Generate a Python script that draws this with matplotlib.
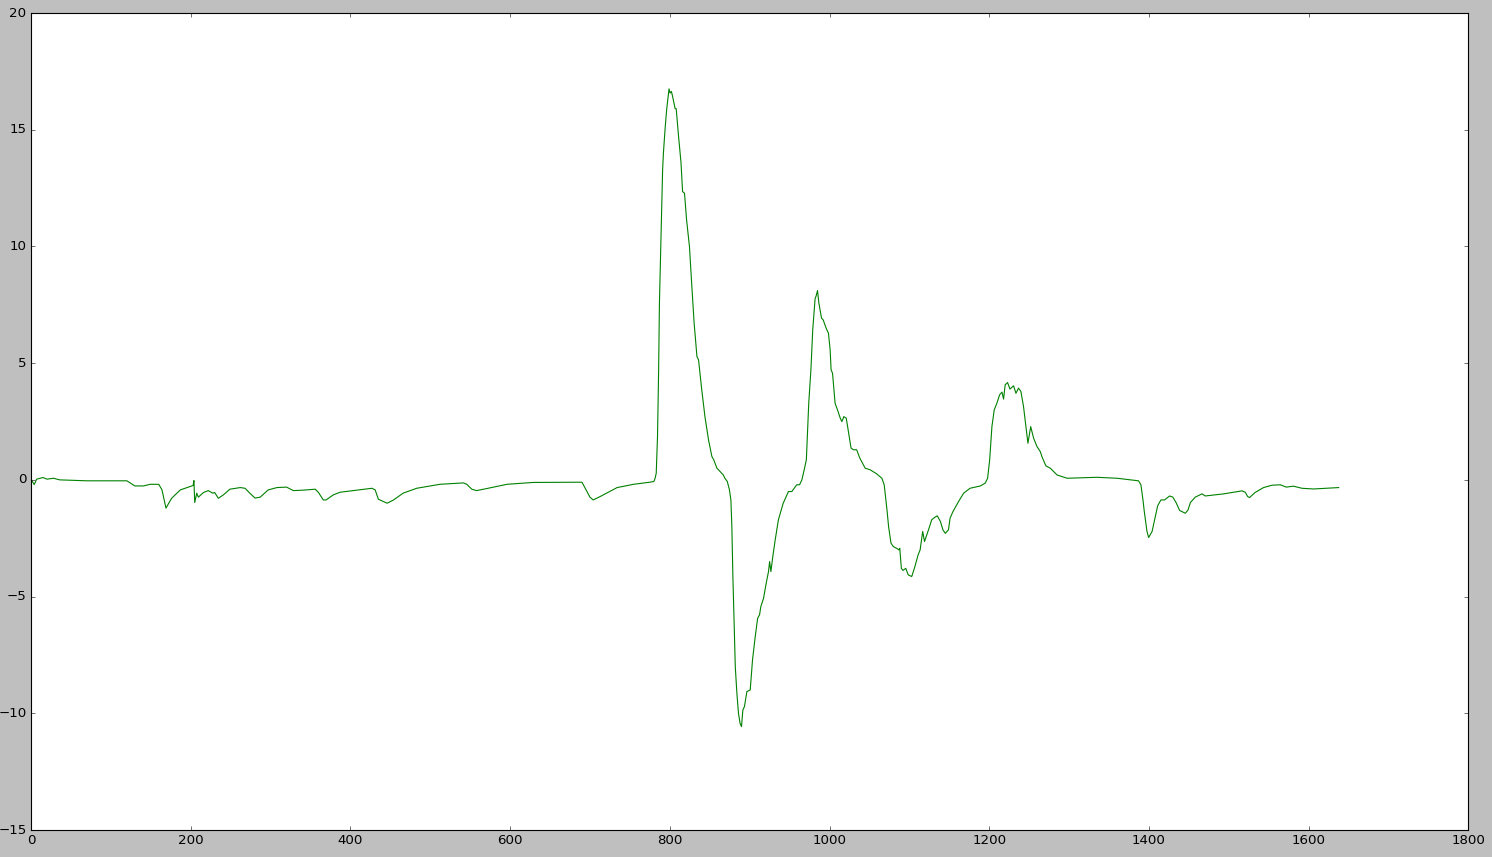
import matplotlib
matplotlib.use("Agg")
import matplotlib.pyplot as plt

# signal trace (sample index, value)
X = [0, 4, 7, 15, 20, 28, 36, 70, 120, 130, 141, 149, 160, 164, 169, 176, 187, 199,
     203, 204, 205, 207.5, 209.6, 216, 222, 227.6, 230, 234.6, 241, 249, 262, 268, 274,
     280.6, 287, 297, 308, 320, 328.6, 341, 356, 360, 366, 369.5, 378.7, 387, 427, 431,
     435, 439, 446, 454, 466, 483, 512, 541.5, 545.8, 552, 558, 571, 596, 629, 690, 694,
     700, 704, 713, 734, 754.5, 775, 780, 781.6, 783, 784.6, 786, 787, 789, 791, 792,
     794, 796, 799, 800.4, 802, 803, 806.7, 808, 811, 814, 816, 818.4, 821, 824.6,
     827.6, 830.5, 834, 836, 840, 844, 848.5, 852.7, 855, 859, 861, 867, 869, 872,
     874.7, 876.5, 877.7, 879, 880.6, 882, 884, 886, 888, 889.8, 891.5, 893.5, 896.5,
     900.7, 903.6, 907, 910, 912.4, 914, 917.4, 920.7, 923.6, 925, 926.6, 929, 932,
     936, 942, 948.6, 952.8, 959, 962.5, 965.4, 968.3, 971, 974, 976.7, 979, 982, 983,
     985, 986.7, 990, 992, 995.8, 998.7, 1000.8, 1002, 1003.8, 1007, 1010, 1013.5,
     1015.5, 1018, 1021, 1024, 1027, 1030, 1034, 1038, 1044.7, 1051, 1059, 1065.6,
     1068.5, 1072, 1074, 1077, 1080, 1084, 1087, 1088, 1090, 1092, 1095.5, 1098.6, 1103,
     1107, 1111, 1113.5, 1116.7, 1119, 1124, 1128, 1132, 1135, 1139, 1142, 1145, 1149,
     1151, 1154.6, 1161.6, 1168, 1176, 1189, 1195, 1198, 1200.6, 1203.4, 1206.3,
     1209.6, 1213, 1216, 1218, 1220, 1223, 1226, 1230.5, 1233.5, 1236.7, 1239.7, 1243,
     1246, 1248.5, 1252, 1255.6, 1259.8, 1264, 1266, 1271, 1276.5, 1285, 1297.5, 1335,
     1360, 1387, 1390, 1392.6, 1394, 1397.6, 1399.7, 1404, 1408, 1411, 1415, 1419.5,
     1426, 1430, 1434, 1438.5, 1441.5, 1445.6, 1449, 1452, 1458, 1466.5, 1470.6,
     1493.6, 1516.6, 1520.7, 1523.6, 1526, 1533, 1543.6, 1554, 1564.6, 1572, 1581,
     1591.7, 1606, 1637.7]
Y = [0.03, -0.2, 0.03, 0.1, 0.03, 0.07, 0.0, -0.04, -0.04, -0.26, -0.26, -0.19, -0.19,
     -0.43, -1.21, -0.79, -0.43, -0.29, -0.24, -0.03, -0.97, -0.57, -0.74, -0.54, -0.46,
     -0.57, -0.54, -0.79, -0.64, -0.4, -0.33, -0.36, -0.57, -0.78, -0.74, -0.43, -0.33,
     -0.31, -0.46, -0.44, -0.4, -0.54, -0.86, -0.86, -0.64, -0.53, -0.36, -0.43, -0.83,
     -0.89, -1.0, -0.86, -0.57, -0.36, -0.19, -0.13, -0.19, -0.4, -0.46, -0.37, -0.19,
     -0.11, -0.1, -0.36, -0.74, -0.86, -0.71, -0.33, -0.19, -0.1, -0.07, 0.07, 0.29,
     1.86, 4.71, 7.57, 10.4, 13.3, 14.0, 15.0, 15.85, 16.75, 16.57, 16.64, 16.5, 15.9,
     15.9, 14.7, 13.6, 12.35, 12.28, 11.14, 10.0, 8.28, 6.7, 5.28, 5.14, 3.86, 2.71,
     1.71, 1.0, 0.86, 0.5, 0.43, 0.21, 0.07, -0.07, -0.43, -0.86, -2.0, -4.14, -6.28,
     -8.0, -9.14, -10.0, -10.43, -10.57, -9.86, -9.71, -9.07, -9.0, -7.71, -6.71, -5.93,
     -5.78, -5.43, -5.07, -4.43, -3.93, -3.5, -3.93, -3.28, -2.57, -1.71, -1.0, -0.5,
     -0.5, -0.21, -0.21, 0.0, 0.43, 0.86, 3.28, 4.71, 6.43, 7.78, 7.85, 8.11, 7.57, 6.93,
     6.86, 6.5, 6.28, 5.57, 4.71, 4.57, 3.28, 3.0, 2.64, 2.5, 2.71, 2.64, 2.0, 1.36,
     1.29, 1.29, 0.93, 0.5, 0.43, 0.26, 0.07, -0.21, -1.29, -2.0, -2.71, -2.86, -2.93,
     -3.0, -2.93, -3.79, -3.88, -3.79, -4.07, -4.14, -3.71, -3.21, -3.0, -2.21, -2.64,
     -2.14, -1.71, -1.6, -1.54, -1.79, -2.14, -2.29, -2.14, -1.64, -1.36, -0.93, -0.57,
     -0.36, -0.26, -0.14, 0.07, 0.86, 2.28, 3.0, 3.28, 3.64, 3.76, 3.46, 4.07, 4.17,
     3.89, 4.03, 3.71, 3.93, 3.79, 3.14, 2.28, 1.57, 2.28, 1.79, 1.43, 1.21, 1.0, 0.6,
     0.5, 0.21, 0.07, 0.11, 0.07, -0.04, -0.21, -0.86, -1.29, -2.21, -2.47, -2.21,
     -1.57, -1.11, -0.86, -0.86, -0.69, -0.74, -0.97, -1.31, -1.36, -1.43, -1.29, -0.97,
     -0.74, -0.6, -0.69, -0.6, -0.47, -0.53, -0.71, -0.76, -0.54, -0.33, -0.23, -0.21,
     -0.31, -0.27, -0.36, -0.39, -0.33]

plt.style.use("classic")
DPI = 80
fig = plt.figure(figsize=(1492 / DPI, 857 / DPI), dpi=DPI)
ax = fig.add_axes([0.0208, 0.0315, 0.9633, 0.9533])
ax.plot(X, Y, color="g", lw=1)
ax.set_xlim(0, 1800)
ax.set_ylim(-15, 20)
fig.savefig("out.png", dpi=DPI, facecolor=fig.get_facecolor())
